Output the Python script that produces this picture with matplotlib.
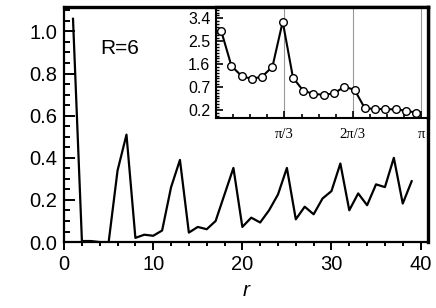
import matplotlib

matplotlib.use("Agg")
import matplotlib.pyplot as plt
import numpy as np
from matplotlib.ticker import MultipleLocator, FixedLocator

plt.rcParams["font.family"] = ["Liberation Sans", "DejaVu Sans"]

# main curve: correlation vs distance r
r = np.arange(1, 40)
corr = [1.06, 0.005, 0.005, 0.0, 0.0, 0.34, 0.51, 0.02, 0.035, 0.03,
        0.055, 0.26, 0.39, 0.045, 0.072, 0.061, 0.10, 0.226, 0.352, 0.072,
        0.116, 0.093, 0.151, 0.226, 0.352, 0.108, 0.168, 0.132, 0.207, 0.242,
        0.373, 0.151, 0.231, 0.175, 0.274, 0.261, 0.40, 0.183, 0.289]

# inset: spectrum vs wavevector
q_index = np.arange(20)
spec = [2.91, 1.53, 1.13, 1.02, 1.11, 1.50, 3.27, 1.07, 0.62, 0.55,
        0.53, 0.56, 0.71, 0.64, 0.24, 0.22, 0.22, 0.21, 0.185, 0.14]
inset_levels = [0.2, 0.7, 1.6, 2.5, 3.4]


def _fwd(v):
    v = np.asarray(v, dtype=float)
    lv = np.array(inset_levels)
    p = np.interp(v, lv, np.arange(len(lv)))
    p = np.where(v < lv[0], (v - lv[0]) / (lv[1] - lv[0]), p)
    p = np.where(v > lv[-1], len(lv) - 1 + (v - lv[-1]) / (lv[-1] - lv[-2]), p)
    return p


def _inv(p):
    p = np.asarray(p, dtype=float)
    lv = np.array(inset_levels)
    n = len(lv)
    v = np.interp(p, np.arange(n), lv)
    v = np.where(p < 0, lv[0] + p * (lv[1] - lv[0]), v)
    v = np.where(p > n - 1, lv[-1] + (p - (n - 1)) * (lv[-1] - lv[-2]), v)
    return v


fig = plt.figure(figsize=(4.36, 3.08), dpi=100)
ax = fig.add_axes([0.147, 0.214, 0.835, 0.764])
ax.plot(r, corr, color="black", lw=1.6)
ax.set_xlim(0, 40.85)
ax.set_ylim(0, 1.117)
ax.xaxis.set_major_locator(MultipleLocator(10))
ax.xaxis.set_minor_locator(MultipleLocator(2))
ax.yaxis.set_major_locator(MultipleLocator(0.2))
ax.yaxis.set_minor_locator(MultipleLocator(0.05))
ax.yaxis.set_major_formatter(matplotlib.ticker.FormatStrFormatter("%.1f"))
ax.tick_params(axis="x", which="major", direction="out", length=5.5, width=1.4,
               labelsize=14.5, pad=3.5)
ax.tick_params(axis="x", which="minor", direction="out", length=3, width=1.4)
ax.tick_params(axis="y", which="major", direction="in", length=8, width=1.4,
               labelsize=14.5, pad=5)
ax.tick_params(axis="y", which="minor", direction="in", length=4.3, width=1.4)
for side, w in (("left", 1.6), ("bottom", 1.6), ("top", 2.4), ("right", 2.4)):
    ax.spines[side].set_linewidth(w)
ax.set_xlabel("r", style="italic", fontsize=15, labelpad=5)
ax.text(0.10, 0.80, "R=6", transform=ax.transAxes, fontsize=15)

ins = fig.add_axes([0.4955, 0.617, 0.487, 0.36])
q = (q_index + 0.5) * np.pi / 20
ins.set_yscale("function", functions=(_fwd, _inv))
for xv in (np.pi / 3, 2 * np.pi / 3, np.pi):
    ins.axvline(xv, color="0.6", lw=0.8, zorder=0)
ins.plot(q, spec, color="black", lw=1.5, marker="o", ms=5.5,
         mfc="white", mec="black", mew=1.0)
ins.set_xlim(0, np.pi + 0.11)
ins.set_ylim(float(_inv(-0.35)), float(_inv(4.49)))
ins.yaxis.set_major_locator(FixedLocator(inset_levels))
ins.yaxis.set_minor_locator(FixedLocator(_inv(np.arange(-0.25, 4.5, 0.125))))
ins.set_yticklabels([f"{v:.1f}" for v in inset_levels])
ins.xaxis.set_major_locator(FixedLocator([np.pi / 3, 2 * np.pi / 3, np.pi]))
ins.xaxis.set_minor_locator(MultipleLocator(np.pi / 12))
ins.set_xticklabels(["π/3", "2π/3", "π"], family=["Liberation Serif", "DejaVu Serif"],
                    fontsize=10.5)
ins.tick_params(axis="y", which="major", direction="in", length=5, width=1.2,
                labelsize=11.5, pad=4)
ins.tick_params(axis="y", which="minor", direction="in", length=2.5, width=1.0)
ins.tick_params(axis="x", which="major", direction="in", length=5, width=1.2, pad=7)
ins.tick_params(axis="x", which="minor", direction="in", length=3, width=1.2)
for side, w in (("left", 1.5), ("bottom", 1.5), ("top", 2.4), ("right", 2.4)):
    ins.spines[side].set_linewidth(w)

fig.savefig("out.png", dpi=100)
